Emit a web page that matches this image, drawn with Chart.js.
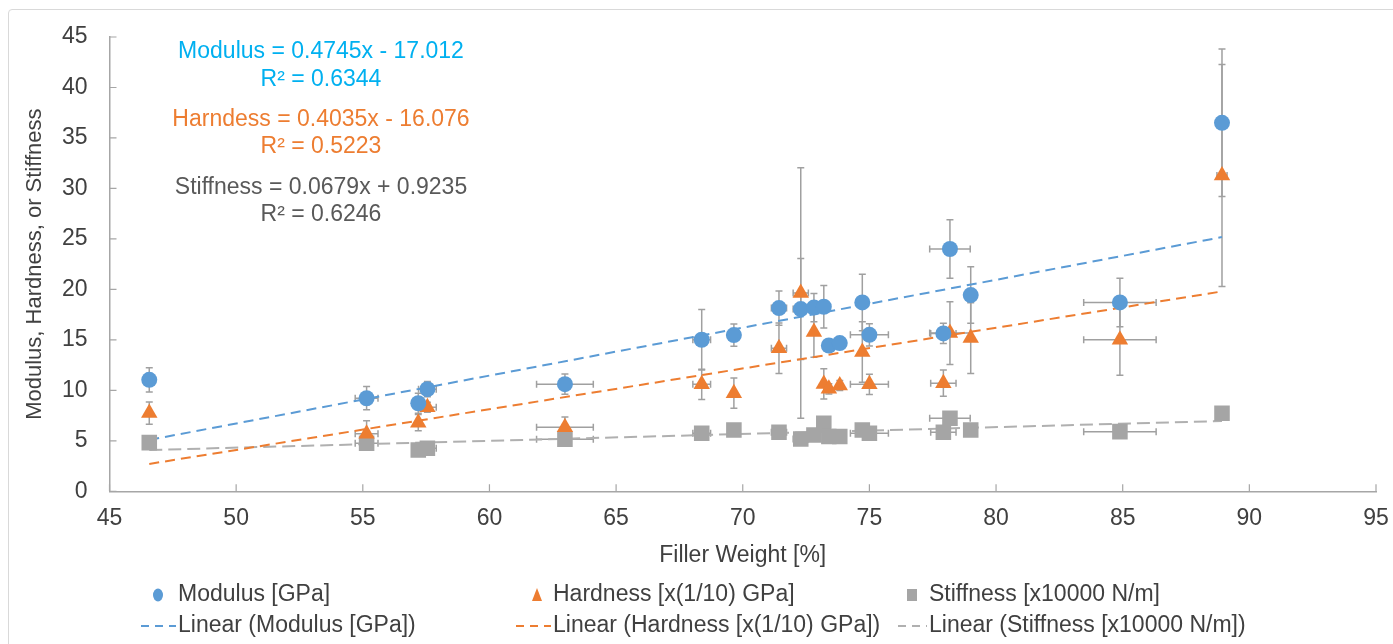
<html><head><meta charset="utf-8">
<script src="https://cdn.jsdelivr.net/npm/chart.js@4.4.1/dist/chart.umd.min.js"></script>
<style>
 body{margin:0;background:#fff;overflow:hidden;}
 #frame{position:absolute;left:8px;top:9px;width:1400px;height:700px;border:1px solid #d9d9d9;border-radius:4px;}
 #wrap{position:absolute;left:0;top:0;width:1393px;height:644px;}
</style>
</head>
<body>
<div id="frame"></div>
<div id="wrap"><canvas id="myChart" width="1393" height="644"></canvas></div>
<script>
// filler weight [%] of each sample, and its horizontal error
var fillerWeight = [46.57, 55.15, 57.19, 57.55, 62.98, 68.38, 69.65, 71.43, 72.29, 72.81, 73.2, 73.4, 73.83, 74.72, 75.0, 77.92, 78.18, 79.0, 84.89, 88.92];
var weightErr    = [0, 0.45, 0, 0.35, 1.12, 0.35, 0, 0.3, 0.3, 0, 0, 0, 0, 0, 0.75, 0.5, 0.8, 0, 1.43, 0.2];

var modulus      = [11.04, 9.22, 8.72, 10.12, 10.61, 15.01, 15.47, 18.15, 18.05, 18.2, 18.28, 14.44, 14.68, 18.71, 15.5, 15.64, 24.0, 19.44, 18.71, 36.5];
var modulusErr   = [1.2, 1.15, 1.0, 0.75, 1.0, 3.0, 1.1, 1.7, 5.0, 1.4, 2.1, 0.5, 0.5, 2.8, 1.1, 1.0, 2.9, 2.8, 2.4, 7.3];

var hardness     = [7.75, 5.7, 6.8, 8.33, 6.35, 10.6, 9.72, 14.18, 19.64, 15.77, 10.64, 10.15, 10.48, 13.79, 10.6, 10.71, 15.67, 15.18, 15.0, 31.28];
var hardnessErr  = [1.1, 1.3, 0.8, 0.5, 1.0, 1.5, 1.5, 2.5, 12.4, 2.5, 1.5, 0.5, 0.5, 3.0, 1.0, 1.3, 3.1, 3.5, 3.5, 11.0];

var stiffness    = [4.82, 4.76, 4.1, 4.27, 5.16, 5.75, 6.08, 5.85, 5.19, 5.58, 6.74, 5.42, 5.42, 6.08, 5.75, 5.85, 7.24, 6.08, 5.91, 7.74];
var stiffnessErr = [0.2, 0.2, 0.2, 0.2, 0.2, 0.2, 0.2, 0.2, 0.2, 0.2, 0.2, 0.2, 0.2, 0.2, 0.2, 0.2, 0.2, 0.2, 0.2, 0.3];

// trendline end points
var trendX         = [46.57, 88.92];
var modulusTrend   = [5.09, 25.18];
var hardnessTrend  = [2.71, 19.80];
var stiffnessTrend = [4.09, 6.96];

var equations = [
  ['Modulus = 0.4745x - 17.012', 'R² = 0.6344'],
  ['Harndess = 0.4035x - 16.076', 'R² = 0.5223'],
  ['Stiffness = 0.0679x + 0.9235', 'R² = 0.6246']
];
var eqColors = ['#00b0f0', '#ed7d31', '#595959'];

var blue = '#5b9bd5', orange = '#ed7d31', grey = '#a5a5a5';
var FONT = '"Liberation Sans", Arial, sans-serif';
var TXT = '#404040';
var FS = 23;

function pts(ys) { return fillerWeight.map(function (x, i) { return {x: x, y: ys[i]}; }); }
function line(ys) { return trendX.map(function (x, i) { return {x: x, y: ys[i]}; }); }

var errorBars = {
  id: 'errorBars',
  beforeDatasetsDraw: function (chart) {
    var ctx = chart.ctx, xs = chart.scales.x, ys = chart.scales.y;
    ctx.save();
    ctx.strokeStyle = '#a0a0a0';
    ctx.lineWidth = 1.5;
    chart.data.datasets.forEach(function (ds) {
      if (!ds.errY) return;
      ds.data.forEach(function (p, i) {
        var px = xs.getPixelForValue(p.x), py = ys.getPixelForValue(p.y);
        var e = ds.errY[i];
        if (e) {
          var t = ys.getPixelForValue(p.y + e), b = ys.getPixelForValue(p.y - e);
          ctx.beginPath();
          ctx.moveTo(px, t); ctx.lineTo(px, b);
          ctx.moveTo(px - 3.5, t); ctx.lineTo(px + 3.5, t);
          ctx.moveTo(px - 3.5, b); ctx.lineTo(px + 3.5, b);
          ctx.stroke();
        }
        var ex = weightErr[i];
        if (ex) {
          var l = xs.getPixelForValue(p.x - ex), r = xs.getPixelForValue(p.x + ex);
          ctx.beginPath();
          ctx.moveTo(l, py); ctx.lineTo(r, py);
          ctx.moveTo(l, py - 3.5); ctx.lineTo(l, py + 3.5);
          ctx.moveTo(r, py - 3.5); ctx.lineTo(r, py + 3.5);
          ctx.stroke();
        }
      });
    });
    ctx.restore();
  }
};

// Excel style tick marks pointing into the plot
var innerTicks = {
  id: 'innerTicks',
  beforeDatasetsDraw: function (chart) {
    var ctx = chart.ctx, a = chart.chartArea;
    ctx.save();
    ctx.strokeStyle = '#a6a6a6';
    ctx.lineWidth = 1.2;
    ctx.beginPath();
    chart.scales.x.ticks.forEach(function (t) {
      var px = chart.scales.x.getPixelForValue(t.value);
      ctx.moveTo(px, a.bottom); ctx.lineTo(px, a.bottom - 7);
    });
    chart.scales.y.ticks.forEach(function (t) {
      var py = chart.scales.y.getPixelForValue(t.value);
      ctx.moveTo(a.left, py); ctx.lineTo(a.left + 7, py);
    });
    ctx.stroke();
    ctx.restore();
  }
};

var trendLabels = {
  id: 'trendLabels',
  afterDraw: function (chart) {
    var ctx = chart.ctx;
    var rows = [[52, 80], [120, 147], [188, 215]];
    ctx.save();
    ctx.font = FS + 'px ' + FONT;
    ctx.textAlign = 'center';
    ctx.textBaseline = 'middle';
    equations.forEach(function (eq, k) {
      ctx.fillStyle = eqColors[k];
      ctx.fillText(eq[0], 321, rows[k][0]);
      ctx.fillText(eq[1], 321, rows[k][1]);
    });
    ctx.restore();
  }
};

var legendCols = [{m: 158, l: 141, t: 178}, {m: 537, l: 516, t: 553}, {m: 912, l: 898, t: 929}];
var bottomLegend = {
  id: 'bottomLegend',
  afterDraw: function (chart) {
    var ctx = chart.ctx, ds = chart.data.datasets;
    ctx.save();
    ctx.font = FS + 'px ' + FONT;
    ctx.textBaseline = 'middle';
    ctx.textAlign = 'left';
    for (var k = 0; k < 3; k++) {
      var s = ds[k], c = legendCols[k], y = 595;
      ctx.fillStyle = s.backgroundColor;
      ctx.beginPath();
      if (s.pointStyle === 'circle') ctx.ellipse(c.m, y, 5, 6.5, 0, 0, Math.PI * 2);
      else if (s.pointStyle === 'triangle') { ctx.moveTo(c.m, y - 7); ctx.lineTo(c.m + 5, y + 6); ctx.lineTo(c.m - 5, y + 6); ctx.closePath(); }
      else ctx.rect(c.m - 5, y - 6, 10, 12);
      ctx.fill();
      ctx.fillStyle = TXT;
      ctx.fillText(s.label, c.t, y);

      var tl = ds[k + 3], y2 = 626;
      ctx.strokeStyle = tl.borderColor;
      ctx.lineWidth = 2;
      ctx.setLineDash([8, 6]);
      ctx.beginPath();
      ctx.moveTo(c.l, y2); ctx.lineTo(c.t - 2, y2);
      ctx.stroke();
      ctx.setLineDash([]);
      ctx.fillStyle = TXT;
      ctx.fillText(tl.label, c.t, y2);
    }
    ctx.restore();
  }
};

var ctx = document.getElementById('myChart');
var myChart = new Chart(ctx, {
  type: 'scatter',
  data: {
    datasets: [
      {label: 'Modulus [GPa]', data: pts(modulus), errY: modulusErr, pointStyle: 'circle', pointRadius: 8, backgroundColor: blue, borderColor: blue, borderWidth: 0, order: 1},
      {label: 'Hardness [x(1/10) GPa]', data: pts(hardness), errY: hardnessErr, pointStyle: 'triangle', pointRadius: 9.5, backgroundColor: orange, borderColor: orange, borderWidth: 0, order: 2},
      {label: 'Stiffness [x10000 N/m]', data: pts(stiffness), errY: stiffnessErr, pointStyle: 'rect', pointRadius: 11, backgroundColor: grey, borderColor: grey, borderWidth: 0, order: 3},
      {label: 'Linear (Modulus [GPa])', data: line(modulusTrend), showLine: true, pointRadius: 0, borderColor: blue, borderWidth: 2, borderDash: [10, 6], order: 4},
      {label: 'Linear (Hardness [x(1/10) GPa])', data: line(hardnessTrend), showLine: true, pointRadius: 0, borderColor: orange, borderWidth: 2, borderDash: [10, 6], order: 5},
      {label: 'Linear (Stiffness [x10000 N/m])', data: line(stiffnessTrend), showLine: true, pointRadius: 0, borderColor: '#b0b0b0', borderWidth: 2, borderDash: [13, 6], order: 6}
    ]
  },
  options: {
    responsive: false,
    animation: false,
    layout: {padding: {top: 37, right: 17, bottom: 0, left: 0}},
    plugins: {legend: {display: false}, tooltip: {enabled: false}},
    scales: {
      x: {
        min: 45, max: 95,
        ticks: {stepSize: 5, font: {size: FS, family: FONT}, color: TXT, padding: 14},
        grid: {display: false, drawTicks: false},
        border: {color: '#a6a6a6', width: 1.5},
        title: {display: true, text: 'Filler Weight [%]', font: {size: FS, family: FONT}, color: TXT, padding: {top: 0, bottom: 75}},
        afterFit: function (s) { s.height = 152.7; s.paddingRight = 0; s.paddingLeft = 0; }
      },
      y: {
        min: 0, max: 45,
        ticks: {stepSize: 5, font: {size: FS, family: FONT}, color: TXT, padding: 22},
        grid: {display: false, drawTicks: false},
        border: {color: '#a6a6a6', width: 1.5},
        title: {display: true, text: 'Modulus, Hardness, or Stiffness', font: {size: 22, family: FONT}, color: TXT, padding: {top: 22, bottom: 0}},
        afterFit: function (s) { s.width = 109.5; }
      }
    }
  },
  plugins: [errorBars, innerTicks, trendLabels, bottomLegend]
});
</script>
</body></html>
